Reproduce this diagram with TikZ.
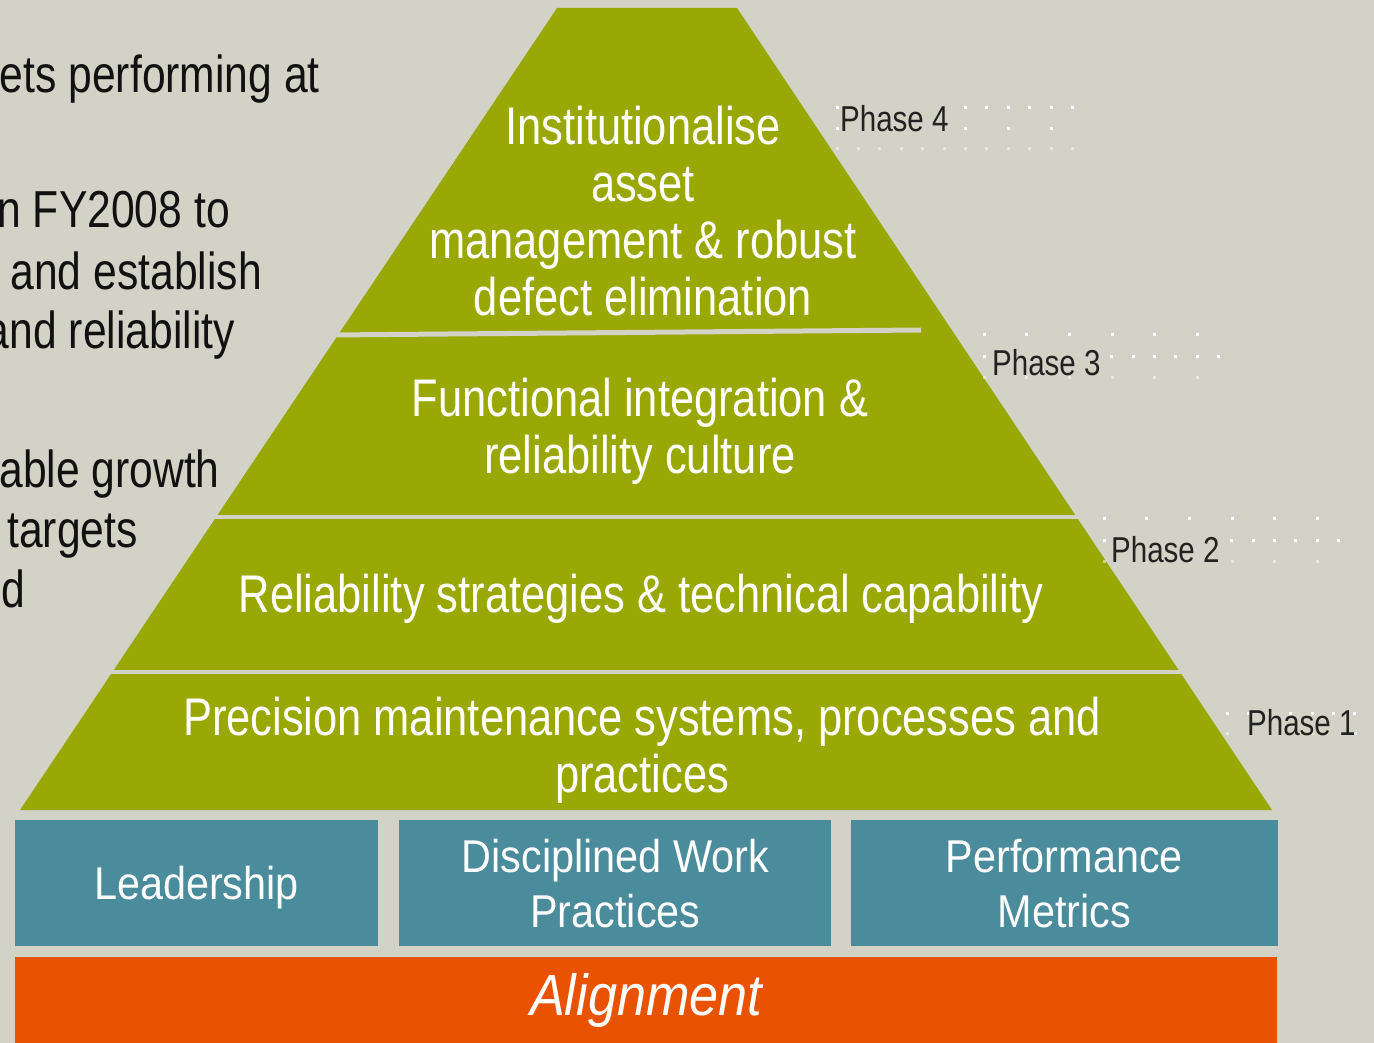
\documentclass[tikz,border=0pt]{standalone}
\usepackage{fontspec}
\setmainfont[FakeStretch=0.82]{Liberation Sans}
\newfontfamily\pillarfont[FakeStretch=0.9]{Liberation Sans}
\usetikzlibrary{positioning}
\definecolor{slidebg}{HTML}{D2D2C6}
\definecolor{tierfill}{HTML}{9AA806}
\definecolor{pillarfill}{HTML}{4A8C9C}
\definecolor{basefill}{HTML}{E85200}
\definecolor{phasetext}{HTML}{222222}
\definecolor{sidetext}{HTML}{111111}

\begin{document}
\begin{tikzpicture}[
  x=1pt, y=-1pt,
  tier/.style={text=white, align=center, inner sep=0pt, font=\fontsize{53}{57}\selectfont},
  pillar/.style={fill=pillarfill, text=white, align=center, minimum height=126pt, inner sep=0pt, text depth=0pt, font=\pillarfont\fontsize{46}{55}\selectfont},
  basebar/.style={fill=basefill, text=white, inner sep=0pt, font=\pillarfont\itshape\fontsize{58}{58}\selectfont},
  phase/.style={text=phasetext, inner sep=0pt, anchor=base west, fill=slidebg, font=\fontsize{36}{36}\selectfont},
  gap/.style={draw=slidebg, line width=5pt},
  sideline/.style={text=sidetext, inner sep=0pt, anchor=base east, font=\fontsize{52}{52}\selectfont}
]
\fill[slidebg] (0,0) rectangle (1374,1043);
\useasboundingbox (0,0) rectangle (1374,1043);
\clip (0,0) rectangle (1374,1043);

% cut-off text on the left
\node[sideline] (side1) at (320,93) {assets performing at};
\node[sideline] (side2) at (230,228) {in FY2008 to};
\node[sideline] (side3) at (262,290) {s and establish};
\node[sideline] (side4) at (235,348) {and reliability};
\node[sideline] (side5) at (220,487) {inable growth};
\node[sideline] (side6) at (138,547) {s targets};
\node[sideline] (side7) at (25,607) {ed};

% pyramid
\fill[tierfill] (557,8) -- (737,8) -- (1272,810) -- (20,810) -- cycle;
\draw[gap] (330,335) -- (921,330);
\draw[gap, line width=4pt] (200,517) -- (1095,517);
\draw[gap, line width=4pt] (95,672) -- (1195,672);

\node[tier] (inst) at (643,211) {Institutionalise\\asset\\management \& robust\\defect elimination};
\node[tier] (func) at (640,431) {Functional integration \&\\reliability culture};
\node[tier, anchor=base] (strat) at (641,612) {Reliability strategies \& technical capability};
\node[tier] (prec) at (642,750) {Precision maintenance systems, processes and\\practices};

% phase markers
\foreach \sx/\sy/\st/\n/\op in {837/108/21.4/11/1, 837/129/42.8/5/1, 837/149/21.4/11/0.5,
    984/334/42.7/5/1, 984/356/21.3/11/1, 984/377/42.7/5/0.5,
    1104/518/42.7/5/1, 1104/540/21.3/11/1, 1104/561/42.7/5/0.5,
    1227/713/21.3/6/1, 1227/733/42.7/3/0.5}
  \foreach \k in {0,...,\n}
    \fill[white, opacity=\op] (\sx+\k*\st-1.5,\sy-1.5) rectangle ++(3,3);

\node[phase] (ph4) at (840,132) {Phase 4};
\node[phase] (ph3) at (992,375) {Phase 3};
\node[phase] (ph2) at (1111,562) {Phase 2};
\node[phase, fill=none] (ph1) at (1247,735) {Phase 1};

% pillars and base
\node[pillar, minimum width=363pt] (lead) at (196.5,883) {Leadership};
\node[pillar, minimum width=432pt, right=21pt of lead] (work) {Disciplined Work\\Practices};
\node[pillar, minimum width=427pt, right=19pt of work] (metrics) {Performance\\Metrics};
\node[basebar, minimum width=1262pt, minimum height=86pt, anchor=north west] (align) at (15,957) {Alignment};

\end{tikzpicture}
\end{document}
